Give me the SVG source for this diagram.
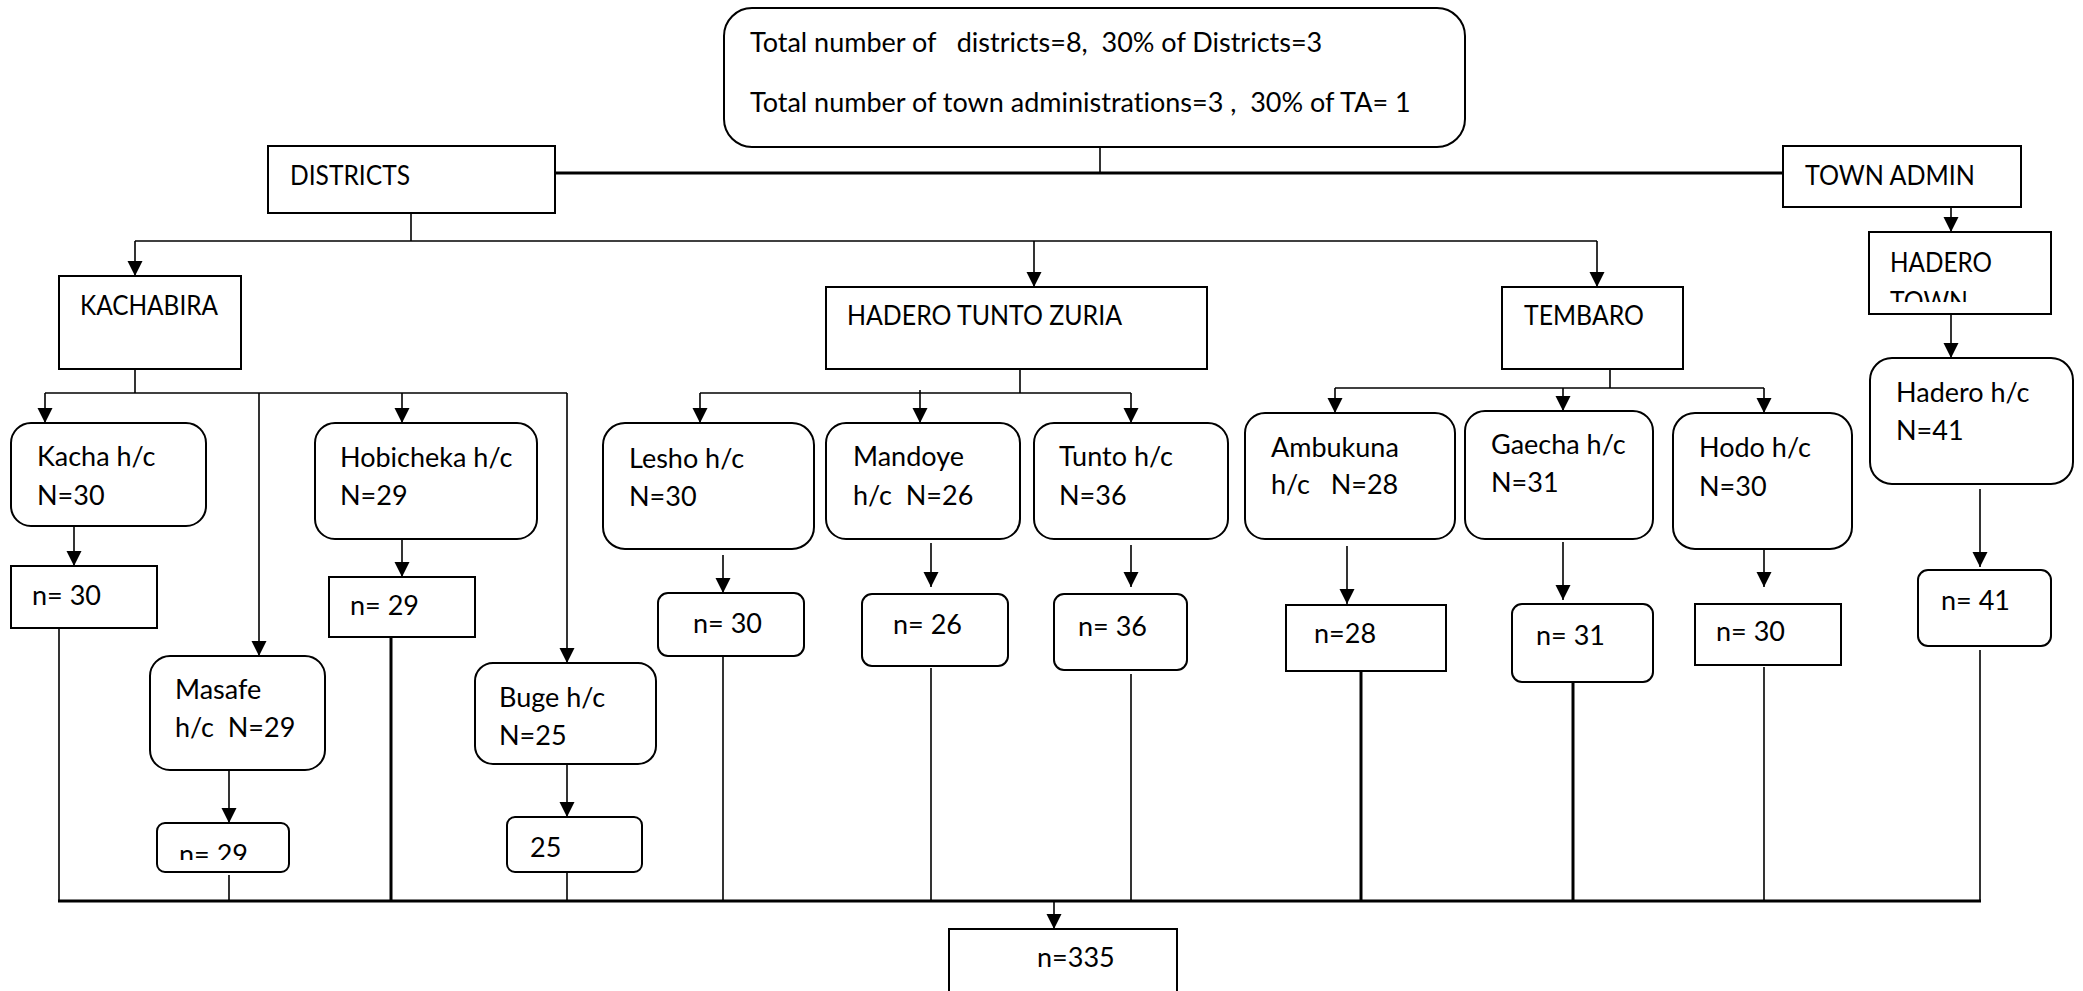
<svg xmlns="http://www.w3.org/2000/svg" width="2083" height="991" viewBox="0 0 2083 991">
<style>
text{font-family:Lato,"Liberation Sans",sans-serif;font-size:27px;fill:#000;font-variant-ligatures:none}
.b{fill:#fff;stroke:#000;stroke-width:2}
.c{fill:none;stroke:#000;stroke-width:1.6}
.t{fill:none;stroke:#000;stroke-width:3}
.a{fill:none;stroke:#000;stroke-width:1.6;marker-end:url(#ah)}
</style>
<defs>
<marker id="ah" markerUnits="userSpaceOnUse" markerWidth="16" markerHeight="16" refX="15" refY="7.5" orient="auto"><path d="M0,0 L15,7.5 L0,15 z" fill="#000"/></marker>
<clipPath id="clipTown"><rect x="1869" y="232" width="182" height="70"/></clipPath>
<clipPath id="clipN29"><rect x="157" y="823" width="132" height="37"/></clipPath>
</defs>
<rect width="2083" height="991" fill="#fff"/>
<g id="connectors">
<path class="c" d="M1100,147 V173"/>
<path class="t" d="M555,173 H1783"/>
<path class="c" d="M411,213 V241"/>
<path class="c" d="M135,241 H1597"/>
<path class="a" d="M135,241 V276"/>
<path class="a" d="M1034,241 V287"/>
<path class="a" d="M1597,241 V287"/>
<path class="a" d="M1951,207 V232"/>
<path class="a" d="M1951,314 V358"/>
<path class="c" d="M135,369 V393"/>
<path class="c" d="M45,393 H567"/>
<path class="a" d="M45,393 V423"/>
<path class="a" d="M259,393 V656"/>
<path class="a" d="M402,393 V423"/>
<path class="a" d="M567,393 V663"/>
<path class="a" d="M74,526 V566"/>
<path class="a" d="M402,539 V577"/>
<path class="a" d="M229,770 V823"/>
<path class="a" d="M567,764 V817"/>
<path class="c" d="M59,628 V901"/>
<path class="c" d="M229,875 V901"/>
<path class="t" d="M391,637 V901"/>
<path class="c" d="M567,872 V901"/>
<path class="c" d="M1020,369 V393"/>
<path class="c" d="M700,393 H1131"/>
<path class="a" d="M700,393 V423"/>
<path class="a" d="M920,390 V423"/>
<path class="a" d="M1131,393 V423"/>
<path class="a" d="M723,555 V593"/>
<path class="a" d="M931,543 V587"/>
<path class="a" d="M1131,545 V587"/>
<path class="c" d="M723,656 V901"/>
<path class="c" d="M931,668 V901"/>
<path class="c" d="M1131,674 V901"/>
<path class="c" d="M1610,369 V388"/>
<path class="c" d="M1335,388 H1764"/>
<path class="a" d="M1335,388 V413"/>
<path class="a" d="M1563,388 V411"/>
<path class="a" d="M1764,388 V413"/>
<path class="a" d="M1347,546 V604"/>
<path class="a" d="M1563,542 V600"/>
<path class="a" d="M1764,550 V587"/>
<path class="a" d="M1980,489 V567"/>
<path class="t" d="M1361,671 V901"/>
<path class="t" d="M1573,676 V901"/>
<path class="c" d="M1764,667 V901"/>
<path class="c" d="M1980,650 V901"/>
<path class="t" d="M58,901 H1981"/>
<path class="a" d="M1054,901 V929"/>
</g>
<g id="top"><rect class="b" x="724" y="8" width="741" height="139" rx="28"/><text x="750" y="52" xml:space="preserve">Total number of   districts=8,  30% of Districts=3</text><text x="750" y="112" xml:space="preserve">Total number of town administrations=3 ,  30% of TA= 1</text></g>
<g id="districts"><rect class="b" x="268" y="146" width="287" height="67"/><text x="290" y="185" textLength="120" lengthAdjust="spacingAndGlyphs">DISTRICTS</text></g>
<g id="townadmin"><rect class="b" x="1783" y="146" width="238" height="61"/><text x="1805" y="185" textLength="170" lengthAdjust="spacingAndGlyphs">TOWN ADMIN</text></g>
<g id="kachabira"><rect class="b" x="59" y="276" width="182" height="93"/><text x="80" y="315" textLength="138" lengthAdjust="spacingAndGlyphs">KACHABIRA</text></g>
<g id="htz"><rect class="b" x="826" y="287" width="381" height="82"/><text x="847" y="325" textLength="275" lengthAdjust="spacingAndGlyphs">HADERO TUNTO ZURIA</text></g>
<g id="tembaro"><rect class="b" x="1502" y="287" width="181" height="82"/><text x="1524" y="325" textLength="120" lengthAdjust="spacingAndGlyphs">TEMBARO</text></g>
<g id="haderotown"><rect class="b" x="1869" y="232" width="182" height="82"/><text x="1890" y="272" textLength="102" lengthAdjust="spacingAndGlyphs">HADERO</text><text x="1890" y="311" clip-path="url(#clipTown)" textLength="78" lengthAdjust="spacingAndGlyphs">TOWN</text></g>
<g id="hadero-hc"><rect class="b" x="1870" y="358" width="203" height="126" rx="22"/><text x="1896" y="402">Hadero h/c</text><text x="1896" y="440">N=41</text></g>
<g id="kacha"><rect class="b" x="11" y="423" width="195" height="103" rx="20"/><text x="37" y="466">Kacha h/c</text><text x="37" y="505">N=30</text></g>
<g id="kacha-n"><rect class="b" x="11" y="566" width="146" height="62"/><text x="32" y="605">n= 30</text></g>
<g id="masafe"><rect class="b" x="150" y="656" width="175" height="114" rx="20"/><text x="175" y="699">Masafe</text><text x="175" y="737" xml:space="preserve">h/c  N=29</text></g>
<g id="masafe-n"><rect class="b" x="157" y="823" width="132" height="49" rx="8"/><text x="179" y="864" clip-path="url(#clipN29)">n= 29</text></g>
<g id="hobicheka"><rect class="b" x="315" y="423" width="222" height="116" rx="20"/><text x="340" y="467">Hobicheka h/c</text><text x="340" y="505">N=29</text></g>
<g id="hobicheka-n"><rect class="b" x="329" y="577" width="146" height="60"/><text x="350" y="615">n= 29</text></g>
<g id="buge"><rect class="b" x="475" y="663" width="181" height="101" rx="18"/><text x="499" y="707">Buge h/c</text><text x="499" y="745">N=25</text></g>
<g id="buge-n"><rect class="b" x="507" y="817" width="135" height="55" rx="8"/><text x="530" y="857">25</text></g>
<g id="lesho"><rect class="b" x="603" y="423" width="211" height="126" rx="22"/><text x="629" y="468">Lesho h/c</text><text x="629" y="506">N=30</text></g>
<g id="lesho-n"><rect class="b" x="658" y="593" width="146" height="63" rx="10"/><text x="693" y="633">n= 30</text></g>
<g id="mandoye"><rect class="b" x="826" y="423" width="194" height="116" rx="20"/><text x="853" y="466">Mandoye</text><text x="853" y="505" xml:space="preserve">h/c  N=26</text></g>
<g id="mandoye-n"><rect class="b" x="862" y="594" width="146" height="72" rx="10"/><text x="893" y="634">n= 26</text></g>
<g id="tunto"><rect class="b" x="1034" y="423" width="194" height="116" rx="20"/><text x="1059" y="466">Tunto h/c</text><text x="1059" y="505">N=36</text></g>
<g id="tunto-n"><rect class="b" x="1054" y="594" width="133" height="76" rx="10"/><text x="1078" y="636">n= 36</text></g>
<g id="ambukuna"><rect class="b" x="1245" y="413" width="210" height="126" rx="20"/><text x="1271" y="457">Ambukuna</text><text x="1271" y="494" xml:space="preserve">h/c   N=28</text></g>
<g id="ambukuna-n"><rect class="b" x="1286" y="605" width="160" height="66"/><text x="1314" y="643">n=28</text></g>
<g id="gaecha"><rect class="b" x="1465" y="411" width="188" height="128" rx="20"/><text x="1491" y="454">Gaecha h/c</text><text x="1491" y="492">N=31</text></g>
<g id="gaecha-n"><rect class="b" x="1512" y="604" width="141" height="78" rx="10"/><text x="1536" y="645">n= 31</text></g>
<g id="hodo"><rect class="b" x="1673" y="413" width="179" height="136" rx="22"/><text x="1699" y="457">Hodo h/c</text><text x="1699" y="496">N=30</text></g>
<g id="hodo-n"><rect class="b" x="1695" y="604" width="146" height="61"/><text x="1716" y="641">n= 30</text></g>
<g id="hadero-n"><rect class="b" x="1918" y="570" width="133" height="76" rx="10"/><text x="1941" y="610">n= 41</text></g>
<g id="total"><rect class="b" x="949" y="929" width="228" height="80"/><text x="1037" y="967">n=335</text></g>
</svg>
